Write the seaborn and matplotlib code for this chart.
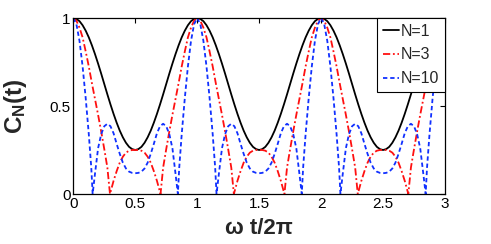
import matplotlib
matplotlib.use("Agg")
import matplotlib.pyplot as plt
import seaborn as sns
import pandas as pd

# ---- data ----
black_x = [0.000, 0.025, 0.050, 0.075, 0.100, 0.125, 0.150, 0.175, 0.200, 0.225,
           0.250, 0.275, 0.300, 0.325, 0.350, 0.375, 0.400, 0.425, 0.450, 0.475,
           0.500, 0.525, 0.550, 0.575, 0.600, 0.625, 0.650, 0.675, 0.700, 0.725,
           0.750, 0.775, 0.800, 0.825, 0.850, 0.875, 0.900, 0.925, 0.950, 0.975,
           1.000, 1.025, 1.050, 1.075, 1.100, 1.125, 1.150, 1.175, 1.200, 1.225,
           1.250, 1.275, 1.300, 1.325, 1.350, 1.375, 1.400, 1.425, 1.450, 1.475,
           1.500, 1.525, 1.550, 1.575, 1.600, 1.625, 1.650, 1.675, 1.700, 1.725,
           1.750, 1.775, 1.800, 1.825, 1.850, 1.875, 1.900, 1.925, 1.950, 1.975,
           2.000, 2.025, 2.050, 2.075, 2.100, 2.125, 2.150, 2.175, 2.200, 2.225,
           2.250, 2.275, 2.300, 2.325, 2.350, 2.375, 2.400, 2.425, 2.450, 2.475,
           2.500, 2.525, 2.550, 2.575, 2.600, 2.625, 2.650, 2.675, 2.700, 2.725,
           2.750, 2.775, 2.800, 2.825, 2.850, 2.875, 2.900, 2.925, 2.950, 2.975,
           3.000]
black_y = [1.000, 0.995, 0.982, 0.959, 0.928, 0.890, 0.845, 0.795, 0.741, 0.684,
           0.625, 0.566, 0.509, 0.455, 0.405, 0.360, 0.322, 0.291, 0.268, 0.255,
           0.250, 0.255, 0.268, 0.291, 0.322, 0.360, 0.405, 0.455, 0.509, 0.566,
           0.625, 0.684, 0.741, 0.795, 0.845, 0.890, 0.928, 0.959, 0.982, 0.995,
           1.000, 0.995, 0.982, 0.959, 0.928, 0.890, 0.845, 0.795, 0.741, 0.684,
           0.625, 0.566, 0.509, 0.455, 0.405, 0.360, 0.322, 0.291, 0.268, 0.255,
           0.250, 0.255, 0.268, 0.291, 0.322, 0.360, 0.405, 0.455, 0.509, 0.566,
           0.625, 0.684, 0.741, 0.795, 0.845, 0.890, 0.928, 0.959, 0.982, 0.995,
           1.000, 0.995, 0.982, 0.959, 0.928, 0.890, 0.845, 0.795, 0.741, 0.684,
           0.625, 0.566, 0.509, 0.455, 0.405, 0.360, 0.322, 0.291, 0.268, 0.255,
           0.250, 0.255, 0.268, 0.291, 0.322, 0.360, 0.405, 0.455, 0.509, 0.566,
           0.625, 0.684, 0.741, 0.795, 0.845, 0.890, 0.928, 0.959, 0.982, 0.995,
           1.000]

red_x = [0.000, 0.025, 0.050, 0.075, 0.100, 0.125, 0.150, 0.175, 0.200, 0.225,
         0.250, 0.275, 0.296, 0.325, 0.350, 0.375, 0.400, 0.425, 0.450, 0.475,
         0.500, 0.525, 0.550, 0.575, 0.600, 0.625, 0.650, 0.675, 0.704, 0.725,
         0.750, 0.775, 0.800, 0.825, 0.850, 0.875, 0.900, 0.925, 0.950, 0.975,
         1.000, 1.025, 1.050, 1.075, 1.100, 1.125, 1.150, 1.175, 1.200, 1.225,
         1.250, 1.275, 1.296, 1.325, 1.350, 1.375, 1.400, 1.425, 1.450, 1.475,
         1.500, 1.525, 1.550, 1.575, 1.600, 1.625, 1.650, 1.675, 1.704, 1.725,
         1.750, 1.775, 1.800, 1.825, 1.850, 1.875, 1.900, 1.925, 1.950, 1.975,
         2.000, 2.025, 2.050, 2.075, 2.100, 2.125, 2.150, 2.175, 2.200, 2.225,
         2.250, 2.275, 2.296, 2.325, 2.350, 2.375, 2.400, 2.425, 2.450, 2.475,
         2.500, 2.525, 2.550, 2.575, 2.600, 2.625, 2.650, 2.675, 2.704, 2.725,
         2.750, 2.775, 2.800, 2.825, 2.850, 2.875, 2.900, 2.925, 2.950, 2.975,
         3.000]
red_y = [1.000, 0.985, 0.945, 0.890, 0.810, 0.725, 0.630, 0.540, 0.450, 0.355,
         0.255, 0.150, 0.000, 0.075, 0.130, 0.178, 0.212, 0.235, 0.246, 0.250,
         0.250, 0.250, 0.246, 0.235, 0.212, 0.178, 0.130, 0.075, 0.000, 0.150,
         0.255, 0.355, 0.450, 0.540, 0.630, 0.725, 0.810, 0.890, 0.945, 0.985,
         1.000, 0.985, 0.945, 0.890, 0.810, 0.725, 0.630, 0.540, 0.450, 0.355,
         0.255, 0.150, 0.000, 0.075, 0.130, 0.178, 0.212, 0.235, 0.246, 0.250,
         0.250, 0.250, 0.246, 0.235, 0.212, 0.178, 0.130, 0.075, 0.000, 0.150,
         0.255, 0.355, 0.450, 0.540, 0.630, 0.725, 0.810, 0.890, 0.945, 0.985,
         1.000, 0.985, 0.945, 0.890, 0.810, 0.725, 0.630, 0.540, 0.450, 0.355,
         0.255, 0.150, 0.000, 0.075, 0.130, 0.178, 0.212, 0.235, 0.246, 0.250,
         0.250, 0.250, 0.246, 0.235, 0.212, 0.178, 0.130, 0.075, 0.000, 0.150,
         0.255, 0.355, 0.450, 0.540, 0.630, 0.725, 0.810, 0.890, 0.945, 0.985,
         1.000]

blue_x = [0.000, 0.025, 0.050, 0.075, 0.100, 0.125, 0.145, 0.156, 0.175, 0.200,
          0.225, 0.250, 0.275, 0.300, 0.325, 0.350, 0.375, 0.400, 0.425, 0.450,
          0.475, 0.500, 0.525, 0.550, 0.575, 0.600, 0.625, 0.650, 0.675, 0.700,
          0.725, 0.750, 0.775, 0.800, 0.825, 0.844, 0.855, 0.875, 0.900, 0.925,
          0.950, 0.975,
          1.000, 1.025, 1.050, 1.075, 1.100, 1.125, 1.145, 1.156, 1.175, 1.200,
          1.225, 1.250, 1.275, 1.300, 1.325, 1.350, 1.375, 1.400, 1.425, 1.450,
          1.475, 1.500, 1.525, 1.550, 1.575, 1.600, 1.625, 1.650, 1.675, 1.700,
          1.725, 1.750, 1.775, 1.800, 1.825, 1.844, 1.855, 1.875, 1.900, 1.925,
          1.950, 1.975,
          2.000, 2.025, 2.050, 2.075, 2.100, 2.125, 2.145, 2.156, 2.175, 2.200,
          2.225, 2.250, 2.275, 2.300, 2.325, 2.350, 2.375, 2.400, 2.425, 2.450,
          2.475, 2.500, 2.525, 2.550, 2.575, 2.600, 2.625, 2.650, 2.675, 2.700,
          2.725, 2.750, 2.775, 2.800, 2.825, 2.844, 2.855, 2.875, 2.900, 2.925,
          2.950, 2.975,
          3.000]
blue_y = [1.000, 0.965, 0.870, 0.725, 0.545, 0.340, 0.150, 0.000, 0.115, 0.260,
          0.340, 0.385, 0.399, 0.385, 0.345, 0.285, 0.228, 0.178, 0.145, 0.127,
          0.120, 0.118, 0.120, 0.127, 0.145, 0.178, 0.228, 0.285, 0.345, 0.385,
          0.399, 0.385, 0.340, 0.260, 0.115, 0.000, 0.150, 0.340, 0.545, 0.725,
          0.870, 0.965,
          1.000, 0.965, 0.870, 0.725, 0.545, 0.340, 0.150, 0.000, 0.115, 0.260,
          0.340, 0.385, 0.399, 0.385, 0.345, 0.285, 0.228, 0.178, 0.145, 0.127,
          0.120, 0.118, 0.120, 0.127, 0.145, 0.178, 0.228, 0.285, 0.345, 0.385,
          0.399, 0.385, 0.340, 0.260, 0.115, 0.000, 0.150, 0.340, 0.545, 0.725,
          0.870, 0.965,
          1.000, 0.965, 0.870, 0.725, 0.545, 0.340, 0.150, 0.000, 0.115, 0.260,
          0.340, 0.385, 0.399, 0.385, 0.345, 0.285, 0.228, 0.178, 0.145, 0.127,
          0.120, 0.118, 0.120, 0.127, 0.145, 0.178, 0.228, 0.285, 0.345, 0.385,
          0.399, 0.385, 0.340, 0.260, 0.115, 0.000, 0.150, 0.340, 0.545, 0.725,
          0.870, 0.965,
          1.000]

series_labels = ["N=1", "N=3", "N=10"]
x_ticks = [0, 0.5, 1, 1.5, 2, 2.5, 3]
x_tick_labels = ["0", "0.5", "1", "1.5", "2", "2.5", "3"]
y_ticks = [0, 0.5, 1]
y_tick_labels = ["0", "0.5", "1"]

# ---- styling ----
sns.set_style("white")
plt.rcParams["font.family"] = ["Liberation Sans", "DejaVu Sans"]
plt.rcParams["mathtext.fontset"] = "custom"
plt.rcParams["mathtext.rm"] = "Liberation Sans"
plt.rcParams["mathtext.bf"] = "Liberation Sans:bold"
plt.rcParams["mathtext.it"] = "Liberation Sans:italic"

fig = plt.figure(figsize=(4.91, 2.44), dpi=100)
ax = fig.add_axes([0.1493, 0.2049, 0.757, 0.7213])

d1 = pd.DataFrame({"x": black_x, "y": black_y})
d3 = pd.DataFrame({"x": red_x, "y": red_y})
d10 = pd.DataFrame({"x": blue_x, "y": blue_y})

sns.lineplot(data=d1, x="x", y="y", ax=ax, color="black", lw=1.3,
             label=series_labels[0], sort=False, estimator=None)
sns.lineplot(data=d3, x="x", y="y", ax=ax, color="#ff1010", lw=1.3,
             label=series_labels[1], sort=False, estimator=None)
sns.lineplot(data=d10, x="x", y="y", ax=ax, color="#1030ff", lw=1.3,
             label=series_labels[2], sort=False, estimator=None)
lines = ax.get_lines()
lines[1].set_linestyle((0, (4, 1.5, 1, 1.5)))
lines[2].set_linestyle((0, (2.4, 1.6)))

ax.set_xlim(0, 3)
ax.set_ylim(0, 1)
ax.set_xticks(x_ticks)
ax.set_xticklabels(x_tick_labels)
ax.set_yticks(y_ticks)
ax.set_yticklabels(y_tick_labels)
ax.tick_params(direction="in", length=3.5, width=0.8, top=True, right=True,
               labelsize=11, pad=2, colors="black")
for s in ax.spines.values():
    s.set_visible(True)
    s.set_color("black")
    s.set_linewidth(0.9)

ax.set_xlabel("ω t/2π", fontsize=16, fontweight="bold")
ax.xaxis.set_label_coords(0.5, -0.135)
ax.set_ylabel(r"$\mathbf{C_N(t)}$", fontsize=17.5)
ax.yaxis.set_label_coords(-0.12, 0.5)

leg = ax.legend(loc="upper right", borderaxespad=0, frameon=True,
                fancybox=False, edgecolor="black", fontsize=11.5,
                handlelength=1.0, handletextpad=0.15, labelspacing=0.55,
                borderpad=0.35)
leg.get_frame().set_linewidth(0.8)
leg.get_frame().set_alpha(1)

fig.savefig("out.png", dpi=100)
